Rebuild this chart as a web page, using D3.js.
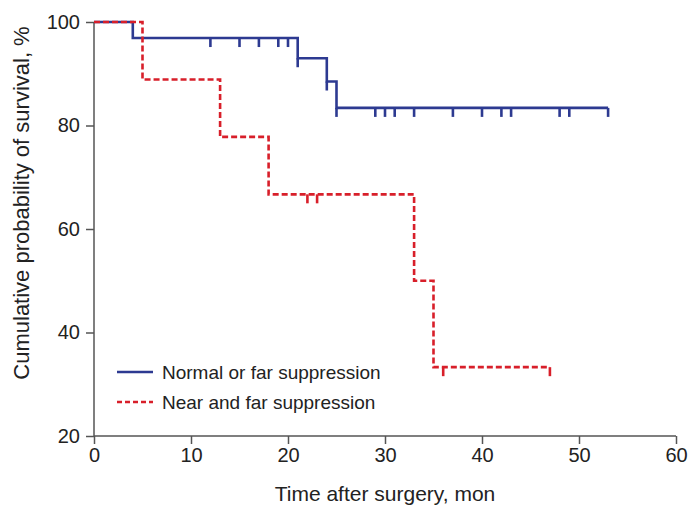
<!DOCTYPE html>
<html>
<head>
<meta charset="utf-8">
<script src="https://cdn.jsdelivr.net/npm/d3@7"></script>
<style>
  body { margin: 0; background: #fff; }
  text { font-family: "Liberation Sans", Arial, sans-serif; fill: #222; }
</style>
</head>
<body>
<script>
// Kaplan-Meier steps: [month, survival %]
var normalSteps = [[0, 100], [4, 96.9], [21, 93.0], [24, 88.5], [25, 83.4], [53, 83.4]];
var normalCensored = [12, 15, 17, 19, 20, 21, 24, 25, 29, 30, 31, 33, 37, 40, 42, 43, 48, 49, 53];
var nearSteps = [[0, 100], [5, 88.9], [13, 77.8], [18, 66.7], [33, 50.0], [35, 33.3], [47, 33.3]];
var nearCensored = [22, 23, 36, 47];

var xTicks = [0, 10, 20, 30, 40, 50, 60];
var yTicks = [20, 40, 60, 80, 100];
var seriesNames = ["Normal or far suppression", "Near and far suppression"];

var width = 688;
var height = 508;
var margins = { left: 94, right: 12, top: 22, bottom: 72 };

var svg = d3.select("body").append("svg")
    .attr("width", width)
    .attr("height", height);

var x = d3.scaleLinear().domain([0, 60]).range([margins.left, width - margins.right]);
var y = d3.scaleLinear().domain([20, 100]).range([height - margins.bottom, margins.top]);

// axes
var xAxis = svg.append("g")
    .attr("transform", "translate(0," + y(20) + ")")
    .call(d3.axisBottom(x).tickValues(xTicks).tickSize(8).tickPadding(4));
var yAxis = svg.append("g")
    .attr("transform", "translate(" + x(0) + ",0)")
    .call(d3.axisLeft(y).tickValues(yTicks).tickSize(8).tickPadding(6));

[xAxis, yAxis].forEach(function(ax) {
    ax.select(".domain").attr("stroke", "#555").attr("stroke-width", 1.5);
    ax.selectAll(".tick line").attr("stroke", "#555").attr("stroke-width", 1.5);
    ax.selectAll(".tick text").attr("font-size", "20px").attr("fill", "#222")
        .attr("font-family", "Liberation Sans, Arial, sans-serif");
});
// outer ticks replaced by our own tick lines
xAxis.select(".domain").attr("d", "M" + x(0) + ",0H" + x(60));
yAxis.select(".domain").attr("d", "M0," + y(100) + "V" + y(20));

svg.append("text")
    .attr("x", 385)
    .attr("y", 501)
    .attr("text-anchor", "middle")
    .attr("font-size", "21px")
    .text("Time after surgery, mon");

svg.append("text")
    .attr("transform", "translate(29,203) rotate(-90)")
    .attr("text-anchor", "middle")
    .attr("font-size", "22px")
    .text("Cumulative probability of survival, %");

var stepLine = d3.line()
    .x(function(d) { return x(d[0]); })
    .y(function(d) { return y(d[1]); })
    .curve(d3.curveStepAfter);

function valueAt(steps, t) {
    var v = steps[0][1];
    steps.forEach(function(s) { if (s[0] <= t) v = s[1]; });
    return v;
}

function drawSeries(steps, censored, color, dash) {
    var g = svg.append("g");
    g.append("path")
        .attr("d", stepLine(steps))
        .attr("fill", "none")
        .attr("stroke", color)
        .attr("stroke-width", 2.6)
        .attr("stroke-dasharray", dash);
    g.selectAll("line.censor")
        .data(censored)
        .enter()
        .append("line")
        .attr("class", "censor")
        .attr("x1", function(d) { return x(d); })
        .attr("x2", function(d) { return x(d); })
        .attr("y1", function(d) { return y(valueAt(steps, d)); })
        .attr("y2", function(d) { return y(valueAt(steps, d)) + 9; })
        .attr("stroke", color)
        .attr("stroke-width", 2.6);
}

var blue = "#2d3a91";
var red = "#d81f2a";
drawSeries(normalSteps, normalCensored, blue, null);
drawSeries(nearSteps, nearCensored, red, "6,3");

// legend
var legend = svg.append("g");
[[blue, null], [red, "5,3"]].forEach(function(s, i) {
    var ly = 372 + i * 30;
    legend.append("line")
        .attr("x1", 117).attr("x2", 153)
        .attr("y1", ly).attr("y2", ly)
        .attr("stroke", s[0])
        .attr("stroke-width", 2.6)
        .attr("stroke-dasharray", s[1]);
    legend.append("text")
        .attr("x", 162)
        .attr("y", ly + 7)
        .attr("font-size", "19px")
        .text(seriesNames[i]);
});
</script>
</body>
</html>
